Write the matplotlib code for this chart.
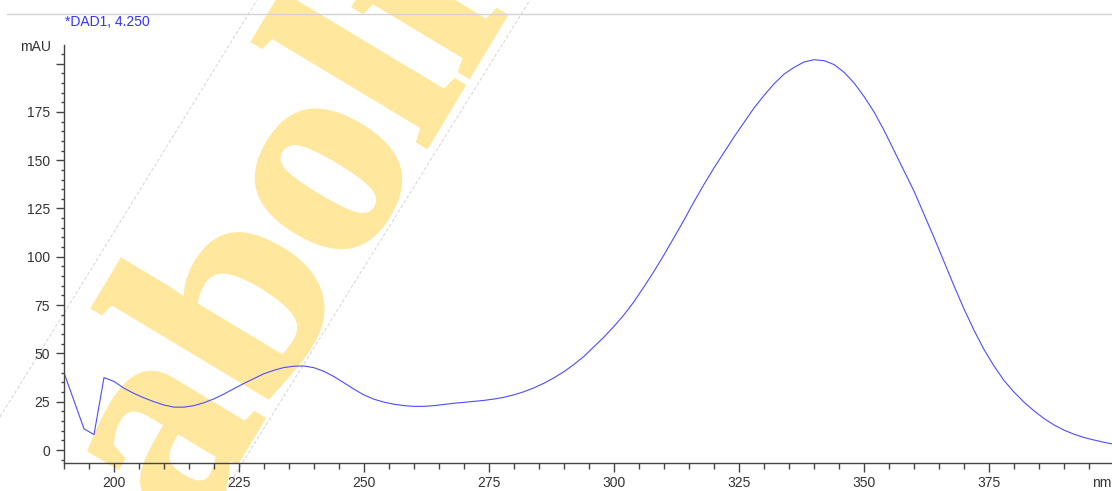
import matplotlib.pyplot as plt
import matplotlib.patheffects as pe
from matplotlib.lines import Line2D
from matplotlib.ticker import MultipleLocator

# UV spectrum at 4.250 min
wavelength = [190, 194, 196, 198, 200, 202, 204, 206, 208, 210, 212, 214, 216,
              218, 220, 222, 224, 226, 228, 230, 232, 234, 236, 238, 240, 242,
              244, 246, 248, 250, 252, 254, 256, 258, 260, 262, 264, 266, 268,
              270, 272, 274, 276, 278, 280, 282, 284, 286, 288, 290, 292, 294,
              296, 298, 300, 302, 304, 306, 308, 310, 312, 314, 316, 318, 320,
              322, 324, 326, 328, 330, 332, 334, 336, 338, 340, 342, 344, 346,
              348, 350, 352, 354, 356, 358, 360, 362, 364, 366, 368, 370, 372,
              374, 376, 378, 380, 382, 384, 386, 388, 390, 392, 394, 396, 398, 400]
absorbance = [40, 11, 8, 37.5, 35.5, 32, 29.3, 27, 25, 23.3, 22.2, 22.2, 23,
              24.5, 26.5, 29, 31.8, 34.5, 37, 39.5, 41.3, 42.7, 43.4, 43.5, 42.6, 40.7,
              38, 34.8, 31.5, 28.5, 26.3, 24.8, 23.7, 23, 22.6, 22.6, 23, 23.6, 24.2,
              24.7, 25.2, 25.7, 26.4, 27.3, 28.6, 30.2, 32.2, 34.6, 37.4, 40.6, 44.3, 48.5,
              53.5, 58.5, 64, 70, 76.8, 84.5, 92.5, 101, 110, 119, 128.5, 137.5, 146,
              154, 162, 169.5, 177, 183.5, 189.5, 194.5, 198, 200.8, 202, 201.5, 199.5, 195.5,
              190, 183, 175, 165.5, 155, 144.5, 134, 122, 110, 97.5, 85, 73, 62,
              52, 43.5, 36, 30, 24.8, 20.3, 16.3, 13, 10.3, 8.2, 6.5, 5.2, 4, 3]

y_ticks = [0, 25, 50, 75, 100, 125, 150, 175, 200]
y_labels = ["0", "25", "50", "75", "100", "125", "150", "175", ""]
x_ticks = [200, 225, 250, 275, 300, 325, 350, 375]

plt.rcParams["font.family"] = ["Liberation Sans", "DejaVu Sans"]

W, H = 1112, 491
fig = plt.figure(figsize=(W / 100, H / 100), dpi=100)
ax = fig.add_axes([64 / W, 1 - 463 / H, 1 - 64 / W, (463 - 45) / H])
ax.patch.set_visible(False)

ax.plot(wavelength, absorbance, color="#4d4dff", lw=0.8)

ax.set_xlim(190, 399.6)
ax.set_ylim(-6.7, 209.6)

for s in ["top", "right"]:
    ax.spines[s].set_visible(False)
for s in ["left", "bottom"]:
    ax.spines[s].set_color("#444444")
    ax.spines[s].set_linewidth(1.0)

ax.set_yticks(y_ticks)
ax.set_yticklabels(y_labels)
ax.set_xticks(x_ticks)
ax.yaxis.set_minor_locator(MultipleLocator(5))
ax.xaxis.set_minor_locator(MultipleLocator(5))
ax.tick_params(axis="y", which="major", length=6, width=1, color="#444444",
               labelsize=10, labelcolor="#333333", pad=4)
ax.tick_params(axis="y", which="minor", length=2.5, width=1, color="#444444")
ax.tick_params(axis="x", which="major", length=6.5, width=1, color="#444444",
               labelsize=10, labelcolor="#333333", pad=3)
ax.tick_params(axis="x", which="minor", length=4, width=1, color="#444444")

fig.text(51 / W, 1 - 47 / H, "mAU", ha="right", va="center", fontsize=10, color="#333333")
fig.text(1092 / W, 1 - 483 / H, "nm", ha="left", va="center", fontsize=10, color="#333333")
fig.text(65 / W, 1 - 22 / H, "*DAD1, 4.250", ha="left", va="center", fontsize=10, color="#3333ff")

# header rule
fig.add_artist(Line2D([7 / W, 1], [1 - 14 / H, 1 - 14 / H], transform=fig.transFigure,
                      color="#d3d3d3", lw=1))

# watermark band, drawn underneath the axes content
for x0, y0, x1, y1 in [(0, 417, 257, 0), (225, 491, 530, 0)]:
    fig.add_artist(Line2D([x0 / W, x1 / W], [1 - y0 / H, 1 - y1 / H], transform=fig.transFigure,
                          color="#d9d9d9", lw=0.8, ls=(0, (3, 2)), zorder=-2))
wm_color = "#ffe89d"
fig.text(190 / W, 1 - 540 / H, "aboli", family="Liberation Serif", weight="bold",
         fontsize=210, color=wm_color, rotation=59, rotation_mode="anchor",
         ha="left", va="baseline", zorder=-1,
         path_effects=[pe.withStroke(linewidth=3.5, foreground=wm_color, joinstyle="miter")])

fig.savefig("out.png", dpi=100)
